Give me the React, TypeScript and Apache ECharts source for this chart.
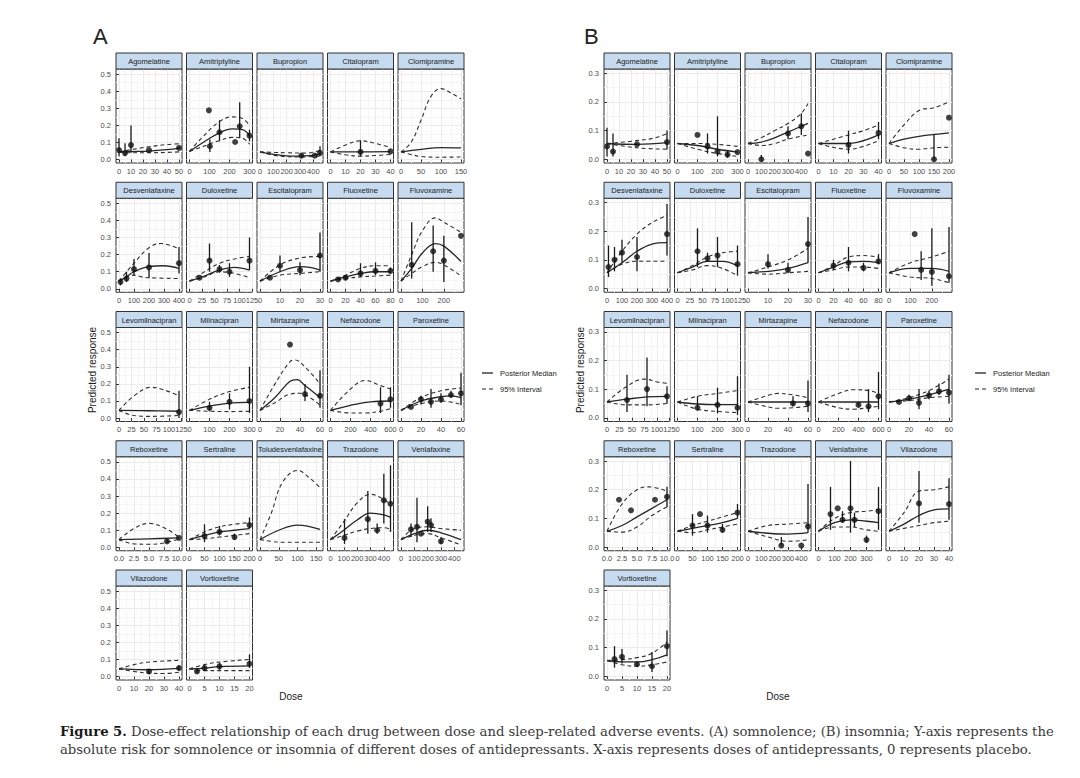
import React, { useEffect, useRef } from 'react';
import * as echarts from 'echarts';

type Pt = [number, number];
type Obs = [number, number, number | null, number | null];

// ---------- Panel A: somnolence ----------
const aNames = ['Agomelatine', 'Amitriptyline', 'Bupropion', 'Citalopram', 'Clomipramine', 'Desvenlafaxine', 'Duloxetine', 'Escitalopram', 'Fluoxetine', 'Fluvoxamine', 'Levomilnacipran', 'Milnacipran', 'Mirtazapine', 'Nefazodone', 'Paroxetine', 'Reboxetine', 'Sertraline', 'Toludesvenlafaxine', 'Trazodone', 'Venlafaxine', 'Vilazodone', 'Vortioxetine'];
const aXMax = [50, 300, 450, 40, 150, 400, 120, 30, 80, 280, 120, 300, 60, 600, 60, 10, 200, 160, 450, 450, 40, 20];
const aXTicks: number[][] = [
  [0, 10, 20, 30, 40, 50], [0, 100, 200, 300], [0, 100, 200, 300, 400], [0, 10, 20, 30, 40], [0, 50, 100, 150],
  [0, 100, 200, 300, 400], [0, 25, 50, 75, 100, 125], [0, 10, 20, 30], [0, 20, 40, 60, 80], [0, 100, 200],
  [0, 25, 50, 75, 100, 125], [0, 100, 200, 300], [0, 20, 40, 60], [0, 200, 400, 600], [0, 20, 40, 60],
  [0, 2.5, 5, 7.5, 10], [0, 50, 100, 150, 200], [0, 50, 100, 150], [0, 100, 200, 300, 400], [0, 100, 200, 300, 400],
  [0, 10, 20, 30, 40], [0, 5, 10, 15, 20],
];
const aMedian: Pt[][] = [
  [[0, 0.045], [10, 0.047], [25, 0.05], [40, 0.058], [50, 0.066]],
  [[0, 0.048], [64, 0.097], [147, 0.155], [214, 0.18], [265, 0.175], [300, 0.14]],
  [[0, 0.045], [100, 0.03], [200, 0.022], [300, 0.02], [450, 0.03]],
  [[0, 0.045], [20, 0.045], [40, 0.046]],
  [[0, 0.045], [50, 0.06], [100, 0.07], [150, 0.068]],
  [[0, 0.045], [50, 0.07], [100, 0.1], [200, 0.13], [300, 0.135], [400, 0.12]],
  [[0, 0.045], [30, 0.075], [60, 0.11], [90, 0.125], [120, 0.11]],
  [[0, 0.045], [10, 0.1], [20, 0.13], [25, 0.125], [30, 0.11]],
  [[0, 0.045], [20, 0.07], [40, 0.09], [60, 0.1], [80, 0.1]],
  [[0, 0.045], [50, 0.12], [100, 0.21], [160, 0.265], [200, 0.25], [280, 0.16]],
  [[0, 0.045], [60, 0.043], [120, 0.04]],
  [[0, 0.045], [100, 0.07], [200, 0.088], [300, 0.092]],
  [[0, 0.045], [15, 0.12], [30, 0.215], [37, 0.225], [45, 0.19], [60, 0.12]],
  [[0, 0.045], [200, 0.075], [400, 0.095], [600, 0.1]],
  [[0, 0.045], [20, 0.1], [40, 0.125], [50, 0.13], [60, 0.12]],
  [[0, 0.045], [5, 0.05], [10, 0.055]],
  [[0, 0.045], [50, 0.07], [100, 0.09], [150, 0.1], [200, 0.11]],
  [[0, 0.045], [50, 0.1], [100, 0.13], [160, 0.105]],
  [[0, 0.045], [100, 0.1], [200, 0.16], [300, 0.2], [400, 0.19], [450, 0.175]],
  [[0, 0.045], [100, 0.08], [200, 0.1], [300, 0.085], [450, 0.045]],
  [[0, 0.045], [20, 0.04], [40, 0.048]],
  [[0, 0.045], [5, 0.05], [10, 0.058], [20, 0.063]],
];
const aUpper: Pt[][] = [
  [[0, 0.045], [10, 0.058], [25, 0.075], [40, 0.088], [50, 0.092]],
  [[0, 0.048], [64, 0.13], [147, 0.22], [214, 0.25], [265, 0.24], [300, 0.2]],
  [[0, 0.045], [100, 0.042], [200, 0.04], [350, 0.038], [450, 0.055]],
  [[0, 0.045], [10, 0.085], [20, 0.11], [30, 0.095], [40, 0.07]],
  [[0, 0.045], [25, 0.1], [50, 0.23], [75, 0.37], [100, 0.415], [125, 0.39], [150, 0.355]],
  [[0, 0.045], [100, 0.15], [200, 0.24], [280, 0.265], [400, 0.235]],
  [[0, 0.045], [30, 0.1], [60, 0.15], [90, 0.175], [120, 0.19]],
  [[0, 0.045], [10, 0.14], [20, 0.18], [30, 0.19]],
  [[0, 0.045], [20, 0.08], [40, 0.12], [60, 0.135], [80, 0.135]],
  [[0, 0.045], [50, 0.2], [100, 0.34], [160, 0.415], [200, 0.39], [280, 0.33]],
  [[0, 0.045], [30, 0.13], [65, 0.18], [90, 0.165], [120, 0.13]],
  [[0, 0.045], [100, 0.11], [200, 0.155], [300, 0.18]],
  [[0, 0.045], [15, 0.2], [30, 0.33], [35, 0.34], [45, 0.3], [60, 0.2]],
  [[0, 0.045], [200, 0.17], [350, 0.22], [500, 0.19], [600, 0.17]],
  [[0, 0.045], [20, 0.12], [40, 0.16], [60, 0.175]],
  [[0, 0.045], [2.5, 0.11], [5, 0.14], [7.5, 0.115], [10, 0.06]],
  [[0, 0.045], [50, 0.09], [100, 0.12], [150, 0.135], [200, 0.145]],
  [[0, 0.045], [30, 0.2], [60, 0.38], [100, 0.45], [130, 0.41], [160, 0.35]],
  [[0, 0.045], [100, 0.15], [200, 0.26], [300, 0.31], [400, 0.28], [450, 0.25]],
  [[0, 0.045], [100, 0.11], [200, 0.12], [300, 0.11], [450, 0.1]],
  [[0, 0.045], [10, 0.07], [20, 0.085], [40, 0.095]],
  [[0, 0.045], [5, 0.07], [10, 0.085], [20, 0.1]],
];
const aLower: Pt[][] = [
  [[0, 0.045], [10, 0.04], [25, 0.04], [40, 0.042], [50, 0.045]],
  [[0, 0.048], [64, 0.075], [147, 0.11], [214, 0.13], [265, 0.125], [300, 0.09]],
  [[0, 0.045], [150, 0.02], [300, 0.015], [450, 0.02]],
  [[0, 0.045], [10, 0.028], [20, 0.02], [30, 0.024], [40, 0.03]],
  [[0, 0.045], [25, 0.03], [50, 0.018], [100, 0.014], [150, 0.015]],
  [[0, 0.045], [100, 0.08], [150, 0.07], [200, 0.065], [400, 0.06]],
  [[0, 0.045], [30, 0.07], [60, 0.1], [90, 0.09], [120, 0.065]],
  [[0, 0.045], [10, 0.08], [20, 0.09], [30, 0.1]],
  [[0, 0.045], [20, 0.06], [40, 0.07], [60, 0.075], [80, 0.08]],
  [[0, 0.045], [50, 0.09], [100, 0.13], [160, 0.155], [200, 0.14], [280, 0.075]],
  [[0, 0.045], [30, 0.015], [65, 0.01], [120, 0.015]],
  [[0, 0.045], [100, 0.04], [200, 0.038], [300, 0.04]],
  [[0, 0.045], [15, 0.09], [30, 0.14], [40, 0.145], [50, 0.12], [60, 0.075]],
  [[0, 0.045], [200, 0.03], [350, 0.03], [500, 0.04], [600, 0.055]],
  [[0, 0.045], [20, 0.085], [40, 0.1], [60, 0.08]],
  [[0, 0.045], [2.5, 0.02], [5, 0.018], [7.5, 0.025], [10, 0.05]],
  [[0, 0.045], [50, 0.05], [100, 0.06], [150, 0.07], [200, 0.08]],
  [[0, 0.045], [30, 0.035], [60, 0.03], [160, 0.03]],
  [[0, 0.045], [100, 0.07], [200, 0.095], [300, 0.11], [400, 0.115], [450, 0.105]],
  [[0, 0.045], [100, 0.07], [200, 0.08], [300, 0.055], [450, 0.015]],
  [[0, 0.045], [10, 0.03], [20, 0.02], [30, 0.018], [40, 0.025]],
  [[0, 0.045], [5, 0.035], [10, 0.035], [20, 0.035]],
];
const aPoints: Obs[][] = [
  [[0, 0.055, 0.02, 0.125], [5, 0.038, 0.02, 0.095], [10, 0.085, 0.04, 0.2], [25, 0.055, null, null], [50, 0.068, 0.06, 0.075]],
  [[97, 0.288, null, null], [102, 0.078, 0.045, 0.117], [150, 0.16, 0.107, 0.23], [228, 0.103, null, null], [251, 0.195, 0.126, 0.335], [300, 0.14, 0.107, 0.175]],
  [[310, 0.023, 0.012, 0.032], [411, 0.023, null, null], [450, 0.039, 0.02, 0.078]],
  [[20, 0.045, 0.02, 0.113], [40, 0.048, null, null]],
  [],
  [[10, 0.04, 0.02, 0.06], [50, 0.06, 0.04, 0.1], [100, 0.115, 0.08, 0.175], [200, 0.125, 0.065, 0.21], [400, 0.15, 0.09, 0.245]],
  [[20, 0.065, null, null], [40, 0.165, 0.1, 0.265], [60, 0.115, 0.095, 0.14], [80, 0.1, 0.07, 0.15], [120, 0.165, 0.11, 0.3]],
  [[5, 0.065, null, null], [10, 0.135, 0.1, 0.195], [20, 0.11, 0.08, 0.155], [30, 0.195, 0.1, 0.33]],
  [[10, 0.055, null, null], [20, 0.065, 0.05, 0.08], [40, 0.09, 0.07, 0.15], [60, 0.105, 0.08, 0.155], [80, 0.105, 0.09, 0.125]],
  [[50, 0.14, 0.06, 0.39], [150, 0.22, 0.1, 0.37], [200, 0.165, 0.04, 0.31], [280, 0.31, null, null]],
  [[120, 0.035, 0.0, 0.16]],
  [[100, 0.06, 0.04, 0.095], [200, 0.095, 0.05, 0.145], [300, 0.1, 0.03, 0.3]],
  [[30, 0.43, null, null], [45, 0.14, 0.1, 0.2], [60, 0.13, 0.06, 0.28]],
  [[500, 0.085, 0.03, 0.18], [600, 0.11, 0.06, 0.18]],
  [[10, 0.065, null, null], [20, 0.11, 0.08, 0.13], [30, 0.095, 0.06, 0.17], [40, 0.11, 0.09, 0.145], [50, 0.135, 0.12, 0.16], [60, 0.145, 0.075, 0.265]],
  [[8, 0.035, 0.025, 0.05], [10, 0.055, null, null]],
  [[50, 0.065, 0.03, 0.135], [100, 0.09, 0.07, 0.125], [150, 0.06, 0.045, 0.08], [200, 0.13, 0.11, 0.175]],
  [],
  [[105, 0.055, 0.02, 0.165], [280, 0.165, 0.08, 0.33], [350, 0.1, 0.08, 0.14], [400, 0.275, 0.14, 0.43], [450, 0.255, 0.09, 0.48]],
  [[75, 0.105, 0.06, 0.14], [120, 0.12, 0.03, 0.29], [150, 0.08, null, null], [200, 0.15, 0.09, 0.24], [225, 0.13, 0.09, 0.17], [300, 0.035, 0.02, 0.06]],
  [[20, 0.03, 0.015, 0.045], [40, 0.05, 0.04, 0.065]],
  [[2.5, 0.03, 0.02, 0.045], [5, 0.05, 0.035, 0.07], [10, 0.06, 0.04, 0.08], [20, 0.075, 0.05, 0.13]],
];
const aYTicks = [0, 0.1, 0.2, 0.3, 0.4, 0.5];

// ---------- Panel B: insomnia ----------
const bNames = ['Agomelatine', 'Amitriptyline', 'Bupropion', 'Citalopram', 'Clomipramine', 'Desvenlafaxine', 'Duloxetine', 'Escitalopram', 'Fluoxetine', 'Fluvoxamine', 'Levomilnacipran', 'Milnacipran', 'Mirtazapine', 'Nefazodone', 'Paroxetine', 'Reboxetine', 'Sertraline', 'Trazodone', 'Venlafaxine', 'Vilazodone', 'Vortioxetine'];
const bXMax = [50, 300, 450, 40, 200, 400, 120, 30, 80, 280, 120, 300, 60, 600, 60, 10, 200, 450, 375, 40, 20];
const bXTicks: number[][] = [
  [0, 10, 20, 30, 40, 50], [0, 100, 200, 300], [0, 100, 200, 300, 400], [0, 10, 20, 30, 40], [0, 50, 100, 150, 200],
  [0, 100, 200, 300, 400], [0, 25, 50, 75, 100, 125], [0, 10, 20, 30], [0, 20, 40, 60, 80], [0, 100, 200],
  [0, 25, 50, 75, 100, 125], [0, 100, 200, 300], [0, 20, 40, 60], [0, 200, 400, 600], [0, 20, 40, 60],
  [0, 2.5, 5, 7.5, 10], [0, 50, 100, 150, 200], [0, 100, 200, 300, 400], [0, 100, 200, 300], [0, 10, 20, 30, 40],
  [0, 5, 10, 15, 20],
];
const bMedian: Pt[][] = [
  [[0, 0.055], [25, 0.052], [50, 0.058]],
  [[0, 0.055], [100, 0.048], [200, 0.035], [300, 0.025]],
  [[0, 0.055], [100, 0.06], [200, 0.075], [300, 0.095], [450, 0.125]],
  [[0, 0.055], [20, 0.055], [40, 0.085]],
  [[0, 0.055], [50, 0.07], [100, 0.08], [200, 0.092]],
  [[0, 0.055], [100, 0.09], [200, 0.13], [300, 0.155], [400, 0.16]],
  [[0, 0.055], [30, 0.075], [60, 0.095], [90, 0.095], [120, 0.08]],
  [[0, 0.055], [10, 0.06], [20, 0.07], [30, 0.09]],
  [[0, 0.055], [20, 0.075], [40, 0.093], [60, 0.095], [80, 0.09]],
  [[0, 0.055], [100, 0.07], [200, 0.07], [280, 0.06]],
  [[0, 0.055], [40, 0.065], [80, 0.073], [120, 0.075]],
  [[0, 0.055], [100, 0.048], [200, 0.046], [300, 0.046]],
  [[0, 0.055], [30, 0.055], [60, 0.055]],
  [[0, 0.055], [300, 0.055], [600, 0.055]],
  [[0, 0.055], [20, 0.065], [40, 0.08], [60, 0.1]],
  [[0, 0.055], [2.5, 0.075], [5, 0.105], [7.5, 0.135], [10, 0.165]],
  [[0, 0.055], [50, 0.065], [100, 0.075], [150, 0.085], [200, 0.1]],
  [[0, 0.055], [150, 0.048], [300, 0.045], [450, 0.05]],
  [[0, 0.055], [100, 0.085], [200, 0.095], [300, 0.09], [375, 0.085]],
  [[0, 0.055], [10, 0.08], [20, 0.11], [30, 0.13], [40, 0.133]],
  [[0, 0.055], [5, 0.05], [10, 0.05], [15, 0.058], [20, 0.075]],
];
const bUpper: Pt[][] = [
  [[0, 0.055], [25, 0.065], [40, 0.075], [50, 0.09]],
  [[0, 0.055], [100, 0.055], [200, 0.052], [300, 0.045]],
  [[0, 0.055], [100, 0.075], [200, 0.1], [300, 0.125], [400, 0.16], [450, 0.195]],
  [[0, 0.055], [20, 0.085], [30, 0.1], [40, 0.12]],
  [[0, 0.055], [50, 0.12], [100, 0.17], [150, 0.18], [200, 0.2]],
  [[0, 0.055], [100, 0.13], [200, 0.19], [300, 0.23], [400, 0.255]],
  [[0, 0.055], [30, 0.08], [60, 0.11], [90, 0.125], [120, 0.13]],
  [[0, 0.055], [10, 0.075], [20, 0.1], [30, 0.14]],
  [[0, 0.055], [20, 0.08], [40, 0.11], [60, 0.115], [80, 0.11]],
  [[0, 0.055], [100, 0.09], [200, 0.11], [280, 0.13]],
  [[0, 0.055], [40, 0.11], [75, 0.135], [100, 0.125], [120, 0.12]],
  [[0, 0.055], [100, 0.075], [200, 0.085], [300, 0.095]],
  [[0, 0.055], [20, 0.078], [30, 0.085], [45, 0.08], [60, 0.07]],
  [[0, 0.055], [200, 0.085], [350, 0.098], [500, 0.095], [600, 0.085]],
  [[0, 0.055], [20, 0.07], [40, 0.095], [60, 0.135]],
  [[0, 0.055], [2.5, 0.15], [5, 0.2], [7, 0.21], [10, 0.195]],
  [[0, 0.055], [50, 0.075], [100, 0.09], [150, 0.105], [200, 0.12]],
  [[0, 0.055], [150, 0.075], [300, 0.08], [450, 0.085]],
  [[0, 0.055], [100, 0.1], [200, 0.12], [300, 0.125], [375, 0.13]],
  [[0, 0.055], [10, 0.12], [20, 0.195], [30, 0.2], [40, 0.21]],
  [[0, 0.055], [5, 0.058], [10, 0.065], [15, 0.08], [20, 0.12]],
];
const bLower: Pt[][] = [
  [[0, 0.055], [25, 0.04], [50, 0.035]],
  [[0, 0.055], [100, 0.035], [200, 0.02], [300, 0.01]],
  [[0, 0.055], [100, 0.048], [200, 0.055], [300, 0.07], [450, 0.085]],
  [[0, 0.055], [20, 0.035], [30, 0.045], [40, 0.065]],
  [[0, 0.055], [50, 0.04], [100, 0.035], [150, 0.04], [200, 0.042]],
  [[0, 0.055], [100, 0.085], [200, 0.095], [400, 0.095]],
  [[0, 0.055], [30, 0.065], [60, 0.08], [90, 0.07], [120, 0.045]],
  [[0, 0.055], [10, 0.05], [20, 0.055], [30, 0.06]],
  [[0, 0.055], [20, 0.065], [40, 0.075], [60, 0.075], [80, 0.07]],
  [[0, 0.055], [100, 0.04], [200, 0.035], [280, 0.02]],
  [[0, 0.055], [40, 0.045], [80, 0.045], [120, 0.05]],
  [[0, 0.055], [100, 0.03], [200, 0.022], [300, 0.018]],
  [[0, 0.055], [20, 0.038], [30, 0.033], [45, 0.035], [60, 0.04]],
  [[0, 0.055], [200, 0.035], [350, 0.03], [500, 0.035], [600, 0.04]],
  [[0, 0.055], [20, 0.06], [40, 0.07], [60, 0.075]],
  [[0, 0.055], [2.5, 0.052], [5, 0.07], [7.5, 0.11], [10, 0.14]],
  [[0, 0.055], [50, 0.05], [100, 0.06], [150, 0.07], [200, 0.08]],
  [[0, 0.055], [150, 0.035], [300, 0.02], [450, 0.025]],
  [[0, 0.055], [100, 0.07], [200, 0.07], [300, 0.06], [375, 0.055]],
  [[0, 0.055], [10, 0.065], [20, 0.075], [30, 0.085], [40, 0.09]],
  [[0, 0.055], [5, 0.04], [10, 0.035], [15, 0.04], [20, 0.05]],
];
const bPoints: Obs[][] = [
  [[0, 0.045, 0.01, 0.11], [5, 0.027, 0.01, 0.09], [25, 0.052, null, null], [50, 0.06, 0.035, 0.1]],
  [[100, 0.085, null, null], [150, 0.045, 0.02, 0.09], [200, 0.027, 0.01, 0.15], [250, 0.016, 0.005, 0.03], [300, 0.025, null, null]],
  [[100, 0.0, 0.0, 0.015], [300, 0.09, 0.07, 0.115], [400, 0.115, 0.085, 0.16], [450, 0.02, null, null]],
  [[20, 0.05, 0.02, 0.1], [40, 0.092, 0.07, 0.13]],
  [[150, 0.0, 0.0, 0.085], [200, 0.145, null, null]],
  [[10, 0.075, 0.04, 0.15], [50, 0.1, 0.06, 0.145], [100, 0.125, 0.09, 0.17], [200, 0.11, 0.06, 0.18], [400, 0.19, 0.115, 0.295]],
  [[40, 0.13, 0.075, 0.21], [60, 0.105, 0.095, 0.125], [80, 0.115, 0.075, 0.18], [120, 0.085, 0.045, 0.15]],
  [[10, 0.085, 0.07, 0.12], [20, 0.065, 0.055, 0.09], [30, 0.155, 0.09, 0.25]],
  [[20, 0.08, 0.065, 0.1], [40, 0.09, 0.06, 0.145], [60, 0.072, 0.06, 0.09], [80, 0.095, 0.085, 0.12]],
  [[120, 0.19, null, null], [150, 0.065, 0.03, 0.13], [200, 0.058, 0.01, 0.21], [280, 0.043, 0.02, 0.215]],
  [[40, 0.062, 0.02, 0.15], [80, 0.1, 0.04, 0.21], [120, 0.075, 0.05, 0.11]],
  [[100, 0.035, 0.025, 0.075], [200, 0.045, 0.015, 0.105], [300, 0.035, 0.01, 0.145]],
  [[45, 0.05, 0.04, 0.075], [60, 0.05, 0.02, 0.13]],
  [[400, 0.045, 0.04, 0.055], [500, 0.04, 0.02, 0.1], [600, 0.075, 0.03, 0.16]],
  [[10, 0.055, null, null], [20, 0.068, 0.06, 0.08], [30, 0.052, 0.03, 0.1], [40, 0.078, 0.065, 0.095], [50, 0.092, 0.08, 0.12], [60, 0.088, 0.05, 0.15]],
  [[2, 0.165, null, null], [4, 0.128, null, null], [8, 0.165, null, null], [10, 0.175, 0.14, 0.21]],
  [[50, 0.075, 0.04, 0.115], [75, 0.115, null, null], [100, 0.075, 0.05, 0.11], [150, 0.06, 0.05, 0.08], [200, 0.12, 0.1, 0.15]],
  [[250, 0.005, 0.005, 0.035], [400, 0.005, null, null], [450, 0.072, 0.05, 0.22]],
  [[75, 0.115, 0.06, 0.21], [120, 0.135, null, null], [150, 0.095, 0.085, 0.125], [200, 0.135, 0.05, 0.3], [225, 0.095, 0.07, 0.12], [300, 0.025, 0.015, 0.04], [375, 0.125, 0.06, 0.21]],
  [[20, 0.152, 0.085, 0.265], [40, 0.15, 0.095, 0.24]],
  [[2.5, 0.06, 0.03, 0.105], [5, 0.068, 0.045, 0.095], [10, 0.042, 0.035, 0.05], [15, 0.035, 0.015, 0.085], [20, 0.105, 0.07, 0.16]],
];
const bYTicks = [0, 0.1, 0.2, 0.3];

const legendLabels = ['Posterior Median', '95% Interval'];
const captionBold = 'Figure 5.';
const captionLine1 = ' Dose-effect relationship of each drug between dose and sleep-related adverse events. (A) somnolence; (B) insomnia; Y-axis represents the';
const captionLine2 = 'absolute risk for somnolence or insomnia of different doses of antidepressants. X-axis represents doses of antidepressants, 0 represents placebo.';

// ---------- layout ----------
const FONT = '"Liberation Sans", Arial, sans-serif';
const SERIF = '"DejaVu Serif", serif';
const COL_STEP = 70.5;
const PANEL_W = 66;
const ROW_TOP = 53;
const ROW_STEP = 129.25;
const STRIP_H = 16;
const PLOT_H = 94;

function minorOf(ticks: number[], lo: number, hi: number): number[] {
  const step = ticks[1] - ticks[0];
  const ext = [ticks[0] - step, ...ticks, ticks[ticks.length - 1] + step];
  const out: number[] = [];
  for (let i = 0; i < ext.length - 1; i++) {
    const m = (ext[i] + ext[i + 1]) / 2;
    if (m > lo && m < hi) out.push(m);
  }
  return out;
}

function buildFacets(
  acc: any, names: string[], xMax: number[], xTicks: number[][], med: Pt[][], up: Pt[][], lo: Pt[][], pts: Obs[][],
  yMin: number, yMax: number, yTicks: number[], leftBase: number,
) {
  names.forEach((name, i) => {
    const row = Math.floor(i / 5);
    const col = i % 5;
    const left = leftBase + col * COL_STEP;
    const stripTop = ROW_TOP + row * ROW_STEP;
    const plotTop = stripTop + STRIP_H;
    const gi = acc.grid.length;
    acc.grid.push({
      left, top: plotTop, width: PANEL_W, height: PLOT_H, show: true,
      borderColor: '#333', borderWidth: 1, backgroundColor: '#fff', outerBoundsMode: 'none', containLabel: false,
    });
    const xmin = -0.05 * xMax[i];
    const xmax = 1.05 * xMax[i];
    const dec = xTicks[i].some((t) => !Number.isInteger(t)) ? 1 : 0;
    const xi = acc.xAxis.length;
    acc.xAxis.push({
      gridIndex: gi, type: 'value', min: xmin, max: xmax, position: 'bottom',
      axisLine: { show: false },
      axisTick: { show: true, customValues: xTicks[i], length: 3, lineStyle: { color: '#333', width: 1 } },
      axisLabel: {
        show: true, customValues: xTicks[i], formatter: (v: number) => Number(v).toFixed(dec),
        fontSize: 7.5, color: '#4d4d4d', margin: 4, fontFamily: FONT, hideOverlap: false,
      },
      splitLine: { show: true, lineStyle: { color: '#ebebeb', width: 1 } },
    });
    acc.xAxis.push({
      gridIndex: gi, type: 'value', min: xmin, max: xmax, position: 'bottom',
      axisLine: { show: false },
      axisTick: { show: false, customValues: minorOf(xTicks[i], xmin, xmax) },
      axisLabel: { show: false },
      splitLine: { show: true, lineStyle: { color: '#f5f5f5', width: 1 } },
    });
    const showY = col === 0;
    const yi = acc.yAxis.length;
    acc.yAxis.push({
      gridIndex: gi, type: 'value', min: yMin, max: yMax, position: 'left',
      axisLine: { show: false },
      axisTick: { show: showY, customValues: yTicks, length: 3, lineStyle: { color: '#333', width: 1 } },
      axisLabel: {
        show: showY, customValues: yTicks, formatter: (v: number) => Number(v).toFixed(1),
        fontSize: 7.5, color: '#4d4d4d', margin: 5, fontFamily: FONT,
      },
      splitLine: { show: true, lineStyle: { color: '#ebebeb', width: 1 } },
    });
    acc.yAxis.push({
      gridIndex: gi, type: 'value', min: yMin, max: yMax, position: 'left',
      axisLine: { show: false },
      axisTick: { show: false, customValues: minorOf(yTicks, yMin, yMax) },
      axisLabel: { show: false },
      splitLine: { show: true, lineStyle: { color: '#f5f5f5', width: 1 } },
    });
    const common = { xAxisIndex: xi, yAxisIndex: yi, silent: true };
    const dashed = { color: '#303030', width: 1.1, type: [4, 3] };
    acc.series.push({ ...common, type: 'line', data: up[i], smooth: 0.4, showSymbol: false, symbol: 'none', lineStyle: dashed, z: 2 });
    acc.series.push({ ...common, type: 'line', data: lo[i], smooth: 0.4, showSymbol: false, symbol: 'none', lineStyle: dashed, z: 2 });
    acc.series.push({ ...common, type: 'line', data: med[i], smooth: 0.4, showSymbol: false, symbol: 'none', lineStyle: { color: '#262626', width: 1.3 }, z: 3 });
    const bars = pts[i].filter((p) => p[2] !== null && p[3] !== null).map((p) => [p[0], p[2], p[3]]);
    acc.series.push({
      ...common, type: 'custom', data: bars, encode: { x: 0, y: [1, 2] }, z: 4,
      renderItem: (_params: any, api: any) => {
        const a = api.coord([api.value(0), api.value(1)]);
        const b = api.coord([api.value(0), api.value(2)]);
        return { type: 'line', shape: { x1: a[0], y1: a[1], x2: b[0], y2: b[1] }, style: { stroke: '#1a1a1a', lineWidth: 1.3 } };
      },
    });
    acc.series.push({
      ...common, type: 'scatter', data: pts[i].map((p) => [p[0], p[1]]), symbolSize: 6,
      itemStyle: { color: '#111' }, z: 5,
    });
    acc.graphic.push({
      type: 'rect', shape: { x: left, y: stripTop, width: PANEL_W, height: STRIP_H },
      style: { fill: '#c6dbef', stroke: '#333', lineWidth: 1 }, z: 10,
    });
    acc.graphic.push({
      type: 'text', x: left + PANEL_W / 2, y: stripTop + STRIP_H / 2 + 0.5, z: 11,
      style: { text: name, fill: '#1a1a1a', fontSize: 7.5, fontFamily: FONT, align: 'center', verticalAlign: 'middle' },
    });
  });
}

function legendItems(x: number, acc: any) {
  acc.graphic.push({ type: 'line', shape: { x1: x, y1: 373, x2: x + 11, y2: 373 }, style: { stroke: '#222', lineWidth: 1.3 }, z: 10 });
  acc.graphic.push({ type: 'line', shape: { x1: x, y1: 389, x2: x + 11, y2: 389 }, style: { stroke: '#222', lineWidth: 1.2, lineDash: [4, 3] }, z: 10 });
  acc.graphic.push({ type: 'text', x: x + 18, y: 373, style: { text: legendLabels[0], fill: '#1a1a1a', fontSize: 7.5, fontFamily: FONT, verticalAlign: 'middle' }, z: 10 });
  acc.graphic.push({ type: 'text', x: x + 18, y: 389, style: { text: legendLabels[1], fill: '#1a1a1a', fontSize: 7.5, fontFamily: FONT, verticalAlign: 'middle' }, z: 10 });
}

export default function App() {
  const ref = useRef<HTMLDivElement>(null);
  useEffect(() => {
    if (!ref.current) return;
    const chart = echarts.init(ref.current, undefined, { renderer: 'svg' });
    const acc: any = { grid: [], xAxis: [], yAxis: [], series: [], graphic: [] };
    buildFacets(acc, aNames, aXMax, aXTicks, aMedian, aUpper, aLower, aPoints, -0.02, 0.53, aYTicks, 116);
    buildFacets(acc, bNames, bXMax, bXTicks, bMedian, bUpper, bLower, bPoints, -0.013, 0.315, bYTicks, 604);
    // panel letters
    acc.graphic.push({ type: 'text', x: 93, y: 36, style: { text: 'A', fill: '#222', fontSize: 22, fontFamily: FONT, verticalAlign: 'middle' } });
    acc.graphic.push({ type: 'text', x: 584, y: 36, style: { text: 'B', fill: '#222', fontSize: 22, fontFamily: FONT, verticalAlign: 'middle' } });
    // axis titles
    [[92, 291], [580, 778]].forEach(([yx, dx]) => {
      acc.graphic.push({ type: 'text', x: yx, y: 370, rotation: Math.PI / 2, style: { text: 'Predicted response', fill: '#1a1a1a', fontSize: 10, fontFamily: FONT, align: 'center', verticalAlign: 'middle' } });
      acc.graphic.push({ type: 'text', x: dx, y: 696, style: { text: 'Dose', fill: '#1a1a1a', fontSize: 10, fontFamily: FONT, align: 'center', verticalAlign: 'middle' } });
    });
    legendItems(482, acc);
    legendItems(975, acc);
    // caption
    acc.graphic.push({
      type: 'text', x: 60, y: 731,
      style: {
        text: '{b|' + captionBold + '}' + captionLine1, fill: '#3a3a3a', fontSize: 13.2, fontFamily: SERIF, verticalAlign: 'middle',
        rich: { b: { fontWeight: 'bold', fill: '#1a1a1a', color: '#1a1a1a', fontSize: 13.2, fontFamily: SERIF } },
      },
    });
    acc.graphic.push({
      type: 'text', x: 60, y: 749,
      style: { text: captionLine2, fill: '#3a3a3a', fontSize: 13.2, fontFamily: SERIF, verticalAlign: 'middle' },
    });
    chart.setOption({
      animation: false,
      backgroundColor: '#ffffff',
      textStyle: { fontFamily: FONT },
      grid: acc.grid,
      xAxis: acc.xAxis,
      yAxis: acc.yAxis,
      series: acc.series,
      graphic: acc.graphic,
    });
    return () => chart.dispose();
  }, []);
  return <div ref={ref} style={{ position: 'absolute', left: 0, top: 0, width: 1080, height: 778 }} />;
}
